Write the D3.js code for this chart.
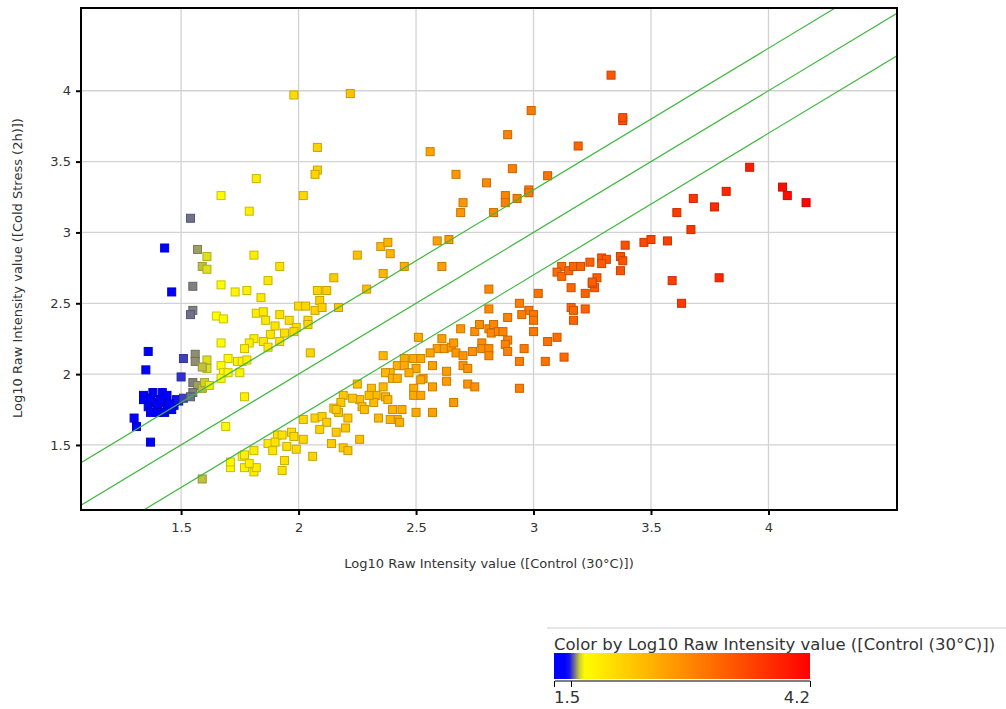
<!DOCTYPE html>
<html>
  <meta charset="utf-8" />
  <script src="https://d3js.org/d3.v7.min.js"></script>
  <style>
    body { margin: 0; background: #fff; }
    text { font-family: "DejaVu Sans", sans-serif; fill: #333; }
  </style>
  <body>
    <svg id="chart" width="1006" height="709"></svg>

    <script>
      // Log10 raw intensity, control (x) vs cold stress 2h (y)
      const controlX = [
        // blue cluster
        1.43, 1.36, 1.35, 1.46, 1.49, 1.34, 1.38, 1.42, 1.44, 1.34, 1.39, 1.42, 1.36, 1.40,
        1.44, 1.47, 1.37, 1.40, 1.43, 1.46, 1.30, 1.31, 1.37, 1.48, 1.41, 1.37, 1.45,
        // blue -> yellow edge
        1.51, 1.50, 1.51, 1.54, 1.57, 1.61, 1.59, 1.61, 1.55, 1.55, 1.54, 1.56, 1.56, 1.61,
        1.61, 1.59, 1.55, 1.57, 1.59, 1.60, 1.62, 1.55, 1.54, 1.59,
        // yellow, upper group
        1.67, 1.82, 1.79, 1.81, 1.92, 2.25, 2.35, 2.38, 2.39, 2.36, 2.15, 1.87, 1.67, 1.73,
        1.78, 1.84, 2.08, 2.12, 2.29,
        1.65, 1.68, 1.82, 1.85, 1.86, 1.92, 1.90, 1.96, 1.99, 1.88, 1.94, 1.98, 2.00, 2.03,
        2.09, 2.07, 2.10, 2.04, 2.04, 2.17,
        1.67, 1.81, 1.79, 1.85, 1.92, 1.77, 1.87, 2.02, 1.70, 1.67, 1.74, 1.76, 1.78, 1.68,
        1.67, 1.70, 1.75, 2.05, 2.36,
        1.98, 2.22, 2.08, 2.08, 2.07,
        // yellow, lower group
        1.77, 1.69, 1.71, 1.71, 1.76, 1.77, 1.81, 1.77, 1.81, 1.82, 1.79, 1.87, 1.89, 1.91,
        1.90, 1.93, 1.95, 1.97, 1.98, 1.99, 2.02, 1.94, 1.93, 2.02, 2.06, 2.07, 2.10, 2.12, 2.09,
        // orange band
        2.45, 2.61, 2.81, 2.81, 2.69, 2.75, 2.77, 2.81, 2.83, 2.82, 2.85, 2.51, 2.61, 2.59,
        2.62, 2.65, 2.66, 2.67, 2.70, 2.74, 2.78, 2.78, 2.81, 2.81, 2.56,
        2.45, 2.49, 2.52, 2.42, 2.45, 2.50, 2.47, 2.39, 2.37, 2.40, 2.42, 2.57, 2.63, 2.63,
        2.70, 2.72, 2.53, 2.52, 2.49, 2.49, 2.52, 2.57, 2.72, 2.75,
        2.25, 2.36, 2.31, 2.33, 2.32, 2.30, 2.37, 2.38, 2.26, 2.27, 2.28, 2.23, 2.19, 2.18,
        2.15, 2.17, 2.16, 2.21, 2.20, 2.16, 2.14, 2.19, 2.21, 2.26,
        2.40, 2.44, 2.42, 2.39, 2.43, 2.34, 2.50, 2.57, 2.66,
        // orange, above the lines
        2.59, 2.64, 2.56, 2.67, 2.80, 2.70, 2.69, 2.83, 2.88, 2.88, 2.93, 2.98, 2.98, 2.89,
        2.91, 2.99, 3.06, 3.19, 3.33, 3.38, 3.38,
        // orange-red band
        3.67, 3.39, 3.47, 3.50, 3.57, 3.12, 3.10, 3.12, 3.15, 3.17, 3.20, 3.24, 3.29, 3.31,
        3.29, 3.37, 3.38, 3.37,
        3.16, 3.22, 3.26, 3.27, 3.25, 3.25, 3.02, 3.16, 3.17, 3.22, 3.17, 3.59, 3.79, 3.63,
        2.94, 2.98, 3.00, 3.00, 2.95, 2.89, 2.87, 2.89, 2.88, 2.89, 3.00, 3.06, 3.10, 2.96,
        2.94, 3.05, 3.13, 2.94,
        // red
        3.92, 4.06, 4.08, 4.16, 3.82, 3.68, 3.77, 3.61
      ];

      const coldY = [
        2.89, 2.16, 2.03, 2.58, 1.81, 1.85, 1.87, 1.87, 1.85, 1.82, 1.80, 1.80, 1.77, 1.77,
        1.76, 1.78, 1.73, 1.73, 1.73, 1.75, 1.69, 1.63, 1.52, 1.82, 1.82, 1.83, 1.79,

        2.11, 1.98, 1.83, 3.10, 2.88, 2.83, 2.76, 2.74, 2.62, 2.45, 2.42, 2.14, 2.09, 2.10,
        2.04, 2.05, 1.94, 1.92, 1.90, 1.94, 1.92, 1.87, 1.84, 1.26,

        3.26, 3.38, 3.15, 2.84, 2.76, 2.84, 2.90, 2.93, 2.85, 2.71, 2.68, 2.66, 2.63, 2.58,
        2.59, 2.54, 2.59, 2.59, 2.60,
        2.41, 2.39, 2.43, 2.44, 2.38, 2.42, 2.34, 2.38, 2.33, 2.28, 2.29, 2.30, 2.48, 2.48,
        2.52, 2.45, 2.47, 2.38, 2.35, 2.47,
        2.22, 2.25, 2.22, 2.23, 2.23, 2.18, 2.19, 3.26, 2.11, 2.06, 2.09, 2.09, 2.10, 2.01,
        1.97, 2.01, 2.01, 2.15, 2.13,
        3.97, 3.98, 3.60, 3.44, 3.41,

        1.84, 1.63, 1.34, 1.38, 1.42, 1.43, 1.46, 1.34, 1.31, 1.34, 1.37, 1.51, 1.46, 1.57,
        1.52, 1.57, 1.49, 1.59, 1.56, 1.47, 1.54, 1.39, 1.32, 1.68, 1.42, 1.69, 1.70, 1.66, 1.61,

        2.76, 2.76, 2.60, 2.46, 2.32, 2.30, 2.35, 2.32, 2.35, 2.29, 2.30, 2.26, 2.25, 2.18,
        2.18, 2.19, 2.22, 2.15, 2.13, 2.16, 2.22, 2.18, 2.18, 2.13, 2.15,
        2.11, 2.11, 2.11, 2.06, 2.06, 2.04, 2.01, 2.01, 2.01, 1.97, 1.97, 2.06, 2.02, 1.95,
        2.06, 2.04, 1.97, 1.96, 1.90, 1.85, 1.85, 1.91, 1.93, 1.91,
        1.93, 1.91, 1.90, 1.85, 1.80, 1.85, 1.84, 1.82, 1.82, 1.77, 1.75, 1.83, 1.85, 1.80,
        1.76, 1.73, 1.75, 1.69, 1.62, 1.59, 1.51, 1.48, 1.46, 1.54,
        1.75, 1.75, 1.68, 1.68, 1.66, 1.69, 1.73, 1.73, 1.80,

        2.94, 2.95, 3.57, 3.41, 3.35, 3.21, 3.14, 3.14, 3.26, 3.21, 3.24, 3.30, 3.28, 3.69,
        3.45, 3.86, 3.40, 3.61, 4.11, 3.79, 3.81,

        3.02, 2.91, 2.93, 2.95, 2.94, 2.76, 2.72, 2.69, 2.73, 2.76, 2.76, 2.79, 2.82, 2.81,
        2.78, 2.83, 2.80, 2.73,
        2.61, 2.57, 2.61, 2.68, 2.64, 2.65, 2.57, 2.47, 2.38, 2.46, 2.45, 2.66, 2.68, 2.50,
        2.50, 2.45, 2.42, 2.38, 2.42, 2.40, 2.30, 2.24, 2.21, 2.16, 2.30, 2.23, 2.26, 2.18,
        2.09, 2.09, 2.12, 1.90,

        3.46, 3.32, 3.26, 3.21, 3.29, 3.24, 3.18, 3.14
      ];

      const xTicks = [1.5, 2, 2.5, 3, 3.5, 4];
      const yTicks = [1.5, 2, 2.5, 3, 3.5, 4];
      const xDomain = [1.074, 4.547];
      const yDomain = [1.041, 4.584];

      // y = x + offset, the 2-fold lines
      const foldOffsets = [0.3, 0, -0.3];

      // colour by the control value
      const colorStops = [1.47, 1.63, 4.2];
      const colorRange = ["#0000ff", "#ffff00", "#ff0000"];
      const legendDomain = [1.31, 4.2];
      const legendTicks = [1.31, 1.5, 4.2];

      const xTitle = "Log10 Raw Intensity value ([Control (30°C)])";
      const yTitle = "Log10 Raw Intensity value ([Cold Stress (2h)])";
      const legendTitle = "Color by Log10 Raw Intensity value ([Control (30°C)])";

      function scatter() {
        const left = 81, top = 8, right = 897, bottom = 510;

        const xScale = d3.scaleLinear().domain(xDomain).range([left, right]);
        const yScale = d3.scaleLinear().domain(yDomain).range([bottom, top]);
        const color = d3.scaleLinear().domain(colorStops).range(colorRange).clamp(true);

        const svg = d3.select("#chart");

        svg.append("clipPath").attr("id", "plotclip")
          .append("rect")
          .attr("x", left).attr("y", top)
          .attr("width", right - left).attr("height", bottom - top);

        // grid
        svg.append("g").selectAll("line").data(xTicks).join("line")
          .attr("x1", (d) => xScale(d)).attr("x2", (d) => xScale(d))
          .attr("y1", top).attr("y2", bottom)
          .attr("stroke", "#d2d2d2").attr("stroke-width", 1.3);
        svg.append("g").selectAll("line").data(yTicks).join("line")
          .attr("y1", (d) => yScale(d)).attr("y2", (d) => yScale(d))
          .attr("x1", left).attr("x2", right)
          .attr("stroke", "#d2d2d2").attr("stroke-width", 1.3);

        // points
        const pts = controlX.map((v, i) => ({ x: v, y: coldY[i] }));
        svg.append("g").selectAll("rect").data(pts).join("rect")
          .attr("x", (d) => xScale(d.x) - 4)
          .attr("y", (d) => yScale(d.y) - 4)
          .attr("width", 8).attr("height", 8)
          .attr("fill", (d) => color(d.x))
          .attr("stroke", (d) => d3.color(color(d.x)).darker(0.7))
          .attr("stroke-width", 1);

        // fold lines
        const line = d3.line().x((d) => xScale(d[0])).y((d) => yScale(d[1]));
        svg.append("g").attr("clip-path", "url(#plotclip)")
          .selectAll("path").data(foldOffsets).join("path")
          .attr("d", (c) => line(xDomain.map((v) => [v, v + c])))
          .attr("fill", "none")
          .attr("stroke", "#3fb83f")
          .attr("stroke-width", 1.2);

        // axes
        const xAxis = svg.append("g")
          .attr("transform", `translate(0, ${bottom})`)
          .call(d3.axisBottom(xScale).tickValues(xTicks).tickFormat(d3.format("~g"))
            .tickSize(5).tickPadding(8));
        const yAxis = svg.append("g")
          .attr("transform", `translate(${left}, 0)`)
          .call(d3.axisLeft(yScale).tickValues(yTicks).tickFormat(d3.format("~g"))
            .tickSize(5).tickPadding(5));
        [xAxis, yAxis].forEach((g) => {
          g.select(".domain").remove();
          g.selectAll(".tick line").attr("stroke", "#000").attr("stroke-width", 2);
          g.selectAll(".tick text").attr("font-size", 13).attr("fill", "#333")
            .attr("font-family", '"DejaVu Sans", sans-serif');
        });

        // frame
        svg.append("rect")
          .attr("x", left).attr("y", top)
          .attr("width", right - left).attr("height", bottom - top)
          .attr("fill", "none").attr("stroke", "#000").attr("stroke-width", 2);

        svg.append("text")
          .attr("x", (left + right) / 2).attr("y", 568)
          .attr("text-anchor", "middle").attr("font-size", 13)
          .text(xTitle);

        svg.append("text")
          .attr("transform", "translate(22, 268) rotate(-90)")
          .attr("text-anchor", "middle").attr("font-size", 13)
          .text(yTitle);

        // legend
        const lx = d3.scaleLinear().domain(legendDomain).range([554, 810]);
        const grad = svg.append("defs").append("linearGradient")
          .attr("id", "legendgrad").attr("x1", "0%").attr("x2", "100%");
        d3.range(0, 1.0001, 0.02).forEach((t) => {
          const v = legendDomain[0] + t * (legendDomain[1] - legendDomain[0]);
          grad.append("stop").attr("offset", t * 100 + "%").attr("stop-color", color(v));
        });

        svg.append("line")
          .attr("x1", 547).attr("x2", 1006).attr("y1", 628).attr("y2", 628)
          .attr("stroke", "#e6e6e6").attr("stroke-width", 2);

        svg.append("text")
          .attr("x", 554).attr("y", 650)
          .attr("font-size", 16.5).attr("fill", "#111")
          .text(legendTitle);

        svg.append("rect")
          .attr("x", lx(legendDomain[0])).attr("y", 653)
          .attr("width", lx(legendDomain[1]) - lx(legendDomain[0])).attr("height", 26)
          .attr("fill", "url(#legendgrad)");

        svg.append("line")
          .attr("x1", lx(legendDomain[0]) + 1).attr("x2", lx(legendDomain[1]))
          .attr("y1", 681).attr("y2", 681)
          .attr("stroke", "#000").attr("stroke-width", 1);
        svg.append("g").selectAll("line").data(legendTicks).join("line")
          .attr("x1", (d) => Math.round(lx(d)) + 0.5).attr("x2", (d) => Math.round(lx(d)) + 0.5)
          .attr("y1", 681).attr("y2", 687)
          .attr("stroke", "#000").attr("stroke-width", 1);

        svg.append("text")
          .attr("x", lx(legendDomain[0])).attr("y", 703)
          .attr("font-size", 16.5).attr("fill", "#111")
          .text(d3.format("~g")(legendTicks[1]));
        svg.append("text")
          .attr("x", lx(legendDomain[1])).attr("y", 703)
          .attr("text-anchor", "end")
          .attr("font-size", 16.5).attr("fill", "#111")
          .text(d3.format("~g")(legendTicks[2]));
      }

      scatter();
    </script>
  </body>
</html>
